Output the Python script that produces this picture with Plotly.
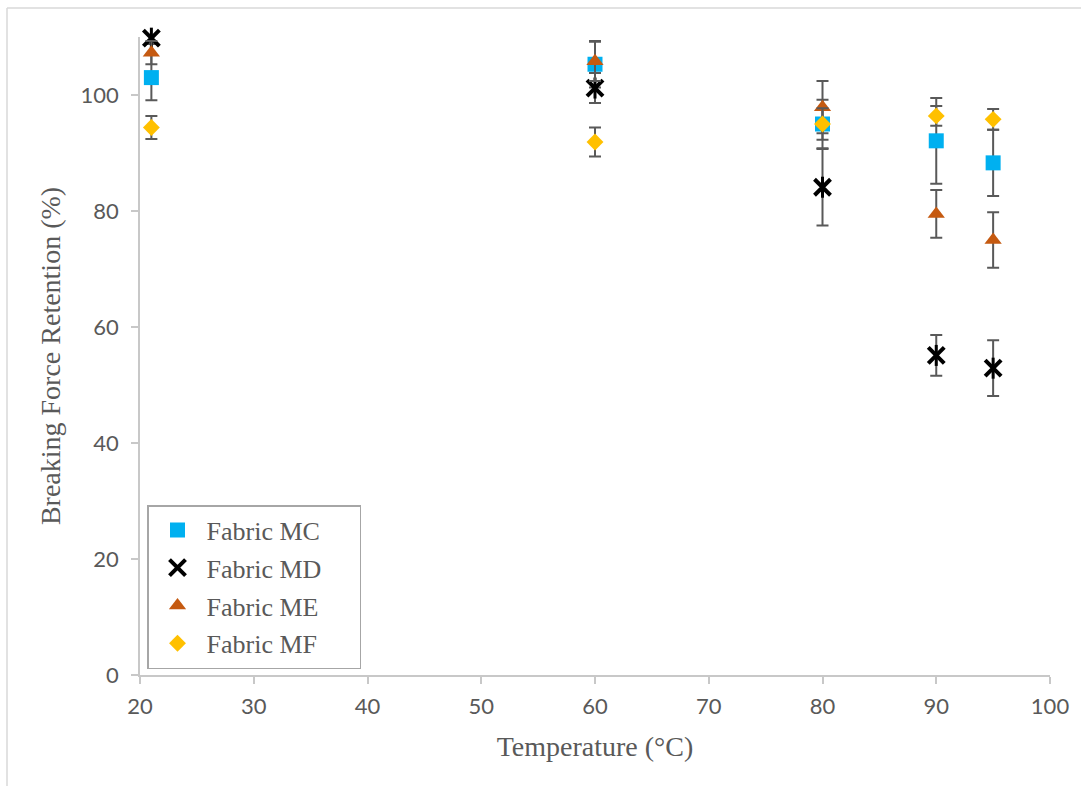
import plotly.graph_objects as go

temps = [21, 60, 80, 90, 95]
mc = [103.0, 105.3, 95.0, 92.1, 88.3]
mc_err = [3.9, 4.0, 4.2, 7.4, 5.7]
md = [109.8, 101.2, 84.1, 55.1, 52.9]
md_err = [1.0, 2.6, 6.6, 3.5, 4.8]
me = [107.3, 105.8, 97.9, 79.5, 75.0]
me_err = [2.0, 3.4, 4.5, 4.1, 4.8]
mf = [94.4, 91.9, 95.0, 96.4, 95.8]
mf_err = [2.0, 2.5, 2.7, 1.7, 1.8]

series_names = ["Fabric MC", "Fabric MD", "Fabric ME", "Fabric MF"]
x_ticks = [20, 30, 40, 50, 60, 70, 80, 90, 100]
y_ticks = [0, 20, 40, 60, 80, 100]

ERR_COLOR = "#595959"
TXT = "#595959"
AX = "#C8C8C8"
PAD = "\u00a0" * 5

def err(vals):
    return dict(type="data", array=vals, visible=True, color=ERR_COLOR,
                thickness=2, width=6)

fig = go.Figure()
fig.add_trace(go.Scatter(x=temps, y=mc, mode="markers", name=series_names[0] + PAD,
                         legendgroup="mc", cliponaxis=False,
                         marker=dict(symbol="square", size=15, color="#00B0F0"),
                         error_y=err(mc_err)))
fig.add_trace(go.Scatter(x=temps, y=md, mode="markers", name=series_names[1] + PAD,
                         legendgroup="md", cliponaxis=False,
                         marker=dict(symbol="x-thin-open", size=16, color="black",
                                     line=dict(color="black", width=4)),
                         error_y=err(md_err)))
fig.add_trace(go.Scatter(x=temps, y=md, mode="markers", name=series_names[1],
                         legendgroup="md", showlegend=False, cliponaxis=False,
                         marker=dict(symbol="line-ns-open", size=15, color="black",
                                     line=dict(color="black", width=3)),
                         hoverinfo="skip"))
fig.add_trace(go.Scatter(x=temps, y=me, mode="markers", name=series_names[2] + PAD,
                         legendgroup="me", cliponaxis=False,
                         marker=dict(symbol="triangle-up", size=15, color="#C55A11"),
                         error_y=err(me_err)))
fig.add_trace(go.Scatter(x=temps, y=mf, mode="markers", name=series_names[3] + PAD,
                         legendgroup="mf", cliponaxis=False,
                         marker=dict(symbol="diamond", size=13, color="#FFC000"),
                         error_y=err(mf_err)))

W, H = 1081, 786
L, R, T, B = 140, 31, 37, 111
pw, ph = W - L - R, H - T - B

def px_x(p):
    return (p - L) / pw

def px_y(p):
    return (H - B - p) / ph

fig.add_shape(type="line", xref="paper", yref="paper",
              x0=px_x(7), x1=px_x(1100), y0=px_y(8), y1=px_y(8),
              line=dict(color="#D9D9D9", width=1.5))
fig.add_shape(type="line", xref="paper", yref="paper",
              x0=px_x(7), x1=px_x(7), y0=px_y(8), y1=px_y(800),
              line=dict(color="#D9D9D9", width=1.5))

fig.update_layout(
    width=W, height=H,
    margin=dict(l=L, r=R, t=T, b=B),
    paper_bgcolor="white", plot_bgcolor="white",
    showlegend=True,
    legend=dict(x=px_x(147), y=px_y(505), xanchor="left", yanchor="top",
                bgcolor="white", bordercolor="#A6A6A6", borderwidth=1.5,
                font=dict(family="Liberation Serif", size=26, color=TXT),
                tracegroupgap=1, itemsizing="trace", itemwidth=48),
    xaxis=dict(range=[20, 100], tickvals=x_ticks, ticktext=[str(v) for v in x_ticks],
               showline=True, linecolor=AX, linewidth=1.5,
               ticks="outside", ticklen=7, tickcolor=AX, tickwidth=1.5,
               showgrid=False, zeroline=False,
               tickfont=dict(family="Lato", size=22, color=TXT),
               ticklabelstandoff=4,
               title=dict(text="Temperature (°C)", standoff=18,
                          font=dict(family="Liberation Serif", size=28, color=TXT))),
    yaxis=dict(range=[0, 110], tickvals=y_ticks, ticktext=[str(v) for v in y_ticks],
               showline=True, linecolor=AX, linewidth=1.5,
               ticks="outside", ticklen=7, tickcolor=AX, tickwidth=1.5,
               showgrid=False, zeroline=False,
               tickfont=dict(family="Lato", size=22, color=TXT),
               ticklabelstandoff=8,
               title=dict(text="Breaking Force Retention (%)", standoff=12,
                          font=dict(family="Liberation Serif", size=28, color=TXT))),
)

fig.write_html("out.html")
